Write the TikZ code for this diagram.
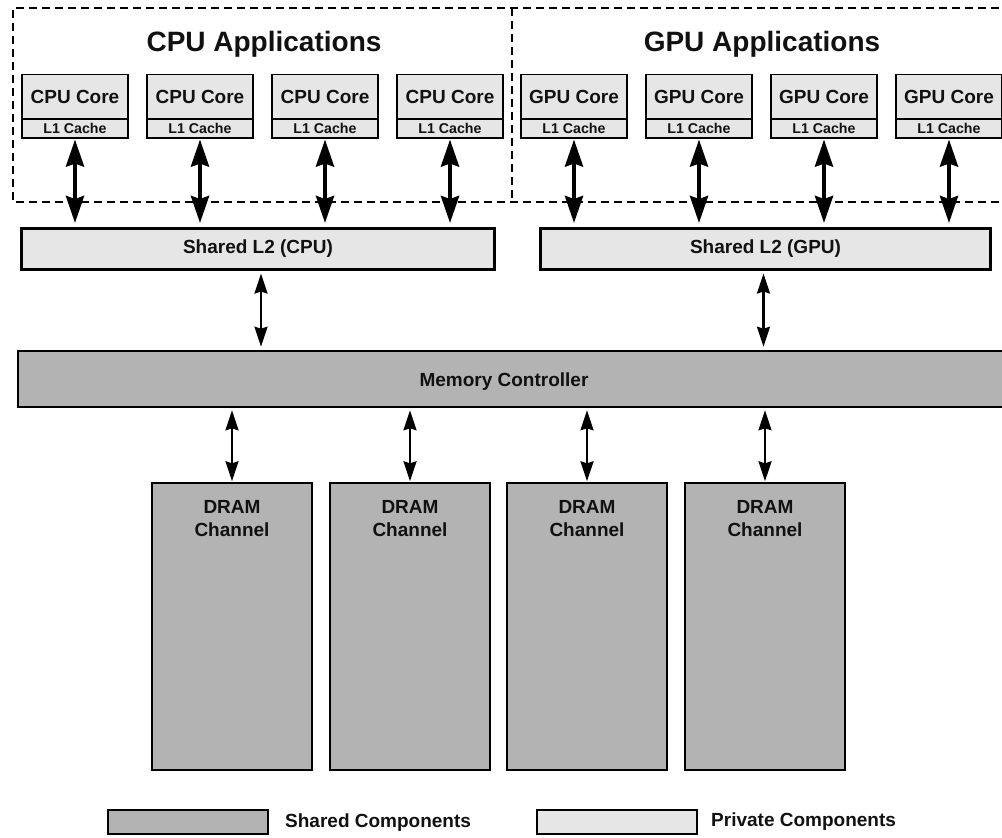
\documentclass[tikz,border=0pt]{standalone}
\usepackage{fontspec}
\setmainfont{Liberation Sans}
\usetikzlibrary{arrows.meta}
\definecolor{privgray}{HTML}{E6E6E6}
\definecolor{sharedgray}{HTML}{B3B3B3}
\definecolor{txt}{HTML}{111111}
\tikzset{
  basefont/.style={font=\bfseries\fontsize{19}{23}\selectfont, text=txt},
  corebox/.style={draw=black, line width=1.1pt, fill=privgray, minimum width=106pt, minimum height=45pt, inner sep=0pt, basefont},
  cachebox/.style={draw=black, line width=1.1pt, fill=privgray, minimum width=106pt, minimum height=19pt, inner sep=0pt, font=\bfseries\fontsize{14.2}{16}\selectfont, text=txt},
  l2box/.style={draw=black, line width=3pt, fill=privgray, inner sep=0pt, basefont},
  mcbox/.style={draw=black, line width=2.5pt, fill=sharedgray, inner sep=0pt, basefont},
  drambox/.style={draw=black, line width=1.4pt, fill=sharedgray, minimum width=160pt, minimum height=287pt, inner sep=0pt},
  legbox/.style={draw=black, line width=1.4pt, minimum width=160pt, minimum height=24pt, inner sep=0pt},
  bigarrow/.style={line width=4pt, {Stealth[length=27pt,width=18pt,inset=3pt]}-{Stealth[length=27pt,width=18pt,inset=3pt]}},
  smallarrow/.style={line width=2.2pt, {Stealth[length=20pt,width=13pt,inset=2pt]}-{Stealth[length=20pt,width=13pt,inset=2pt]}},
  appline/.style={draw=black, line width=2pt, dash pattern=on 8pt off 5pt},
  title/.style={font=\bfseries\fontsize{28}{32}\selectfont, text=txt, inner sep=0pt}
}
\begin{document}
\begin{tikzpicture}[x=1pt,y=-1pt]
\useasboundingbox (0,0) rectangle (1002,838);
\begin{scope}
\clip (0,0) rectangle (1002,838);
% application dashed regions
\draw[appline] (1012,8) -- (13,8) -- (13,202) -- (1012,202);
\draw[appline] (512,8) -- (512,202);
\node[title, anchor=base] (cputitle) at (264,51) {CPU Applications};
\node[title, anchor=base] (gputitle) at (762,51) {GPU Applications};

% CPU cores
\foreach \i/\x in {1/75,2/200,3/325,4/450}{
  \node[corebox] (c\i) at (\x,97) {CPU Core};
  \node[cachebox] (k\i) at (\x,128.5) {L1 Cache};
}
% GPU cores
\foreach \i/\x in {1/574,2/699,3/824,4/949}{
  \node[corebox] (g\i) at (\x,97) {GPU Core};
  \node[cachebox] (h\i) at (\x,128.5) {L1 Cache};
}

% Shared L2
\node[l2box, minimum width=473pt, minimum height=41pt] (l2c) at (258,249) {Shared L2 (CPU)};
\node[l2box, minimum width=450pt, minimum height=41pt] (l2g) at (765.5,249) {Shared L2 (GPU)};

% core <-> L2 arrows
\foreach \i in {1,2,3,4}{
  \draw[bigarrow] ([yshift=-1pt]k\i.south) -- ([yshift=4pt]k\i.south |- l2c.north);
  \draw[bigarrow] ([yshift=-1pt]h\i.south) -- ([yshift=4pt]h\i.south |- l2g.north);
}

% Memory controller
\node[mcbox, minimum width=1000pt, minimum height=56pt] (mc) at (518,379) {};
\node[basefont, anchor=base] (mctext) at (504,386) {Memory Controller};

\draw[smallarrow] ([xshift=3pt,yshift=-2.5pt]l2c.south) -- ([xshift=3pt,yshift=3pt]l2c.south |- mc.north);
\draw[smallarrow] ([xshift=-2pt,yshift=-2.5pt]l2g.south) -- ([xshift=-2pt,yshift=3pt]l2g.south |- mc.north);

% DRAM channels
\foreach \i/\x in {1/232,2/410,3/587,4/765}{
  \node[drambox] (d\i) at (\x,626.5) {};
  \node[basefont, anchor=north, align=center, inner sep=0pt] (dt\i) at ([yshift=-18pt]d\i.north) {DRAM\\Channel};
  \draw[smallarrow] ([yshift=-2pt]d\i.north |- mc.south) -- ([yshift=1pt]d\i.north);
}
\end{scope}

% Legend
\node[legbox, fill=sharedgray] (lshared) at (188,822) {};
\node[basefont, anchor=west, inner sep=0pt] (lsharedt) at (285,823) {Shared Components};
\node[legbox, fill=privgray] (lpriv) at (617,822) {};
\node[basefont, anchor=west, inner sep=0pt] (lprivt) at (711,822) {Private Components};
\end{tikzpicture}
\end{document}
